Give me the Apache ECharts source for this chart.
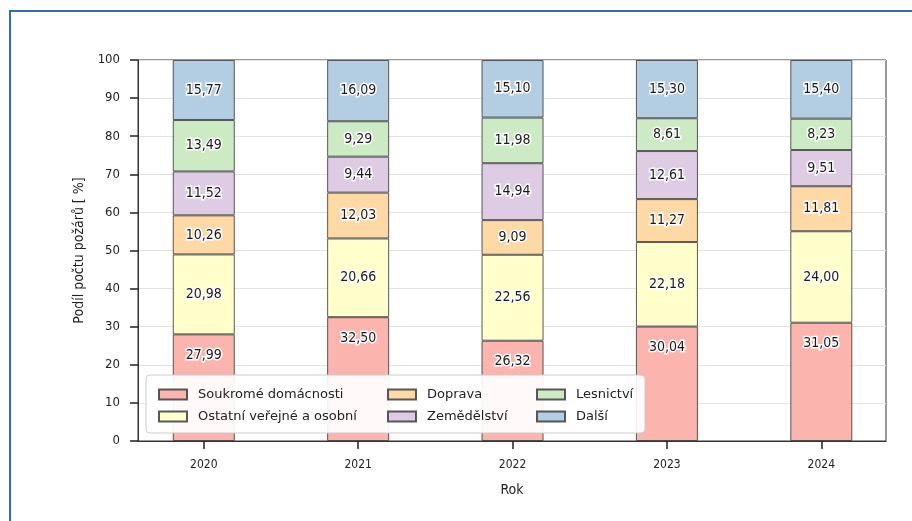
<!DOCTYPE html>
<html>
<head>
<meta charset="utf-8">
<script src="https://cdn.jsdelivr.net/npm/echarts@6/dist/echarts.min.js"></script>
<style>
  html, body { margin: 0; padding: 0; background: #ffffff; }
  #chart { width: 912px; height: 521px; }
</style>
</head>
<body>
<div id="chart"></div>
<script>
// Share of fire counts by sector, 2020–2024 (stacked to 100 %)
const years = ['2020', '2021', '2022', '2023', '2024'];
const seriesNames = ['Soukromé domácnosti', 'Ostatní veřejné a osobní', 'Doprava', 'Zemědělství', 'Lesnictví', 'Další'];
const soukrome    = [27.99, 32.50, 26.32, 30.04, 31.05];
const ostatni     = [20.98, 20.66, 22.56, 22.18, 24.00];
const doprava     = [10.26, 12.03, 9.09, 11.27, 11.81];
const zemedelstvi = [11.52, 9.44, 14.94, 12.61, 9.51];
const lesnictvi   = [13.49, 9.29, 11.98, 8.61, 8.23];
const dalsi       = [15.77, 16.09, 15.10, 15.30, 15.40];
const yTicks = [0, 10, 20, 30, 40, 50, 60, 70, 80, 90, 100];

const seriesValues = [soukrome, ostatni, doprava, zemedelstvi, lesnictvi, dalsi];
const colors = ['#fbb4ae', '#ffffcc', '#fed9a6', '#decbe4', '#ccebc5', '#b3cde3'];

const narrow = '"Liberation Sans Narrow", "DejaVu Sans Condensed", "Roboto", sans-serif';
const legendFont = '"DejaVu Sans", sans-serif';

const chart = echarts.init(document.getElementById('chart'), null, { renderer: 'canvas' });

// Each point is [share, yearIndex]; the share dimension comes first so it is the one stacked.
const series = seriesNames.map((name, s) => ({
  name: name,
  type: 'bar',
  stack: 'total',
  barWidth: 62,
  encode: { x: 1, y: 0 },
  data: seriesValues[s].map((v, i) => [v, i]),
  itemStyle: { color: colors[s], borderColor: 'rgba(60,60,60,0.85)', borderWidth: 1 },
  label: {
    show: true,
    // bottom segment labels sit near the segment top so they stay clear of the legend
    position: s === 0 ? 'insideTop' : 'inside',
    distance: 14,
    fontFamily: narrow,
    fontSize: 14,
    color: '#1a1a1a',
    textBorderColor: '#ffffff',
    textBorderWidth: 3,
    formatter: p => p.value[0].toFixed(2).replace('.', ',')
  },
  emphasis: { disabled: true },
  z: 2
}));

// Legend split into three vertical columns (column-major ordering)
const legendCols = [
  { names: [seriesNames[0], seriesNames[1]], left: 158 },
  { names: [seriesNames[2], seriesNames[3]], left: 387 },
  { names: [seriesNames[4], seriesNames[5]], left: 536 }
];
const legends = legendCols.map(c => ({
  data: c.names,
  orient: 'vertical',
  left: c.left,
  top: 388,
  padding: 0,
  itemGap: 9,
  itemWidth: 28,
  itemHeight: 10,
  icon: 'rect',
  selectedMode: false,
  z: 20,
  textStyle: { fontFamily: legendFont, fontSize: 13, color: '#222', padding: [0, 0, 0, 6] }
}));

chart.setOption({
  animation: false,
  backgroundColor: '#ffffff',
  grid: {
    left: 138, right: 26, top: 60, bottom: 80,
    show: true, borderColor: '#333', borderWidth: 1, backgroundColor: 'transparent'
  },
  legend: legends,
  xAxis: {
    type: 'value',
    min: -0.426,
    max: 4.419,
    name: 'Rok',
    nameLocation: 'middle',
    nameGap: 42,
    nameTextStyle: { fontFamily: narrow, fontSize: 14, color: '#222' },
    axisLine: { show: true, onZero: false, lineStyle: { color: '#333', width: 1 } },
    axisTick: { show: true, customValues: [0, 1, 2, 3, 4], length: 8, lineStyle: { color: '#222', width: 1.5 } },
    axisLabel: {
      customValues: [0, 1, 2, 3, 4],
      formatter: v => years[Math.round(v)],
      margin: 18,
      fontFamily: narrow, fontSize: 12, color: '#222'
    },
    splitLine: { show: false }
  },
  yAxis: {
    type: 'value',
    min: 0,
    max: 100,
    interval: 10,
    name: 'Podíl počtu požárů [ %]',
    nameLocation: 'middle',
    nameGap: 48,
    nameTextStyle: { fontFamily: narrow, fontSize: 14, color: '#222' },
    axisLine: { show: true, onZero: false, lineStyle: { color: '#333', width: 1 } },
    axisTick: { show: true, length: 8, lineStyle: { color: '#222', width: 1.5 } },
    axisLabel: {
      margin: 18,
      fontFamily: narrow, fontSize: 13, color: '#222',
      formatter: v => (yTicks.includes(v) ? String(v) : '')
    },
    splitLine: { show: true, lineStyle: { color: '#e2e2e2', width: 1 } }
  },
  graphic: [
    {
      type: 'rect',
      shape: { x: 10, y: 11, width: 940, height: 540 },
      style: { fill: 'none', stroke: '#2f6db5', lineWidth: 2 },
      silent: true,
      z: 100
    },
    {
      type: 'rect',
      shape: { x: 146, y: 375, width: 499, height: 58, r: 4 },
      style: { fill: 'rgba(255,255,255,0.92)', stroke: '#cccccc', lineWidth: 1 },
      silent: true,
      z: 10
    }
  ],
  series: series
});
</script>
</body>
</html>
